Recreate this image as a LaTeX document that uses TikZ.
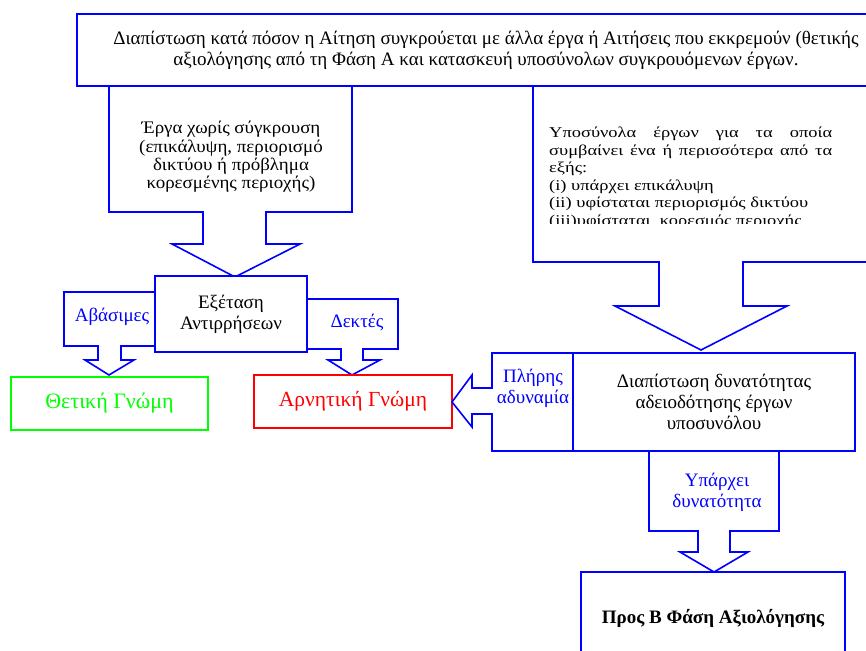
\documentclass[tikz,border=0pt]{standalone}
\usepackage{fontspec}
\setmainfont{Liberation Serif}
\newfontfamily\widerserif[FakeStretch=1.23]{Liberation Serif}
\newfontfamily\wideserif[FakeStretch=1.07]{Liberation Serif}
\usepackage{tikz}
\usetikzlibrary{positioning}
\tikzstyle{callout} = [draw=blue, line width=1.6pt, fill=white, line join=miter]
\tikzstyle{box} = [draw=blue, line width=1.6pt, fill=white, align=center, inner sep=0pt, font=\fontsize{19}{21}\selectfont]
\tikzstyle{txt} = [align=center, inner sep=0pt, font=\fontsize{19}{21}\selectfont]
\tikzstyle{lbl} = [txt, text=blue]

\begin{document}
\begin{tikzpicture}[x=1pt, y=-1pt]
  \useasboundingbox (0,0) rectangle (866,650);
  \clip (0,0) rectangle (866,650);
  % callouts under the top box
  \draw[callout] (533,60) -- (533,262) -- (659,262) -- (659,306) -- (615,306) -- (701,350)
    -- (787,306) -- (743,306) -- (743,262) -- (900,262) -- (900,60) -- cycle;
  \draw[callout] (109,60) -- (109,212) -- (203,212) -- (203,244) -- (172,244) -- (235,277)
    -- (300,244) -- (266,244) -- (266,212) -- (352,212) -- (352,60) -- cycle;
  \node[box, minimum width=818, minimum height=72, font=\fontsize{19}{21}\selectfont] (conflict) at (486,50)
    {Διαπίστωση κατά πόσον η Αίτηση συγκρούεται με άλλα έργα ή Αιτήσεις που εκκρεμούν (θετικής\\
     αξιολόγησης από τη Φάση Α και κατασκευή υποσύνολων συγκρουόμενων έργων.};
  \node[txt, font=\wideserif\fontsize{17.7}{18.4}\selectfont] (noconflict) at (231,157)
    {Έργα χωρίς σύγκρουση\\(επικάλυψη, περιορισμό\\δικτύου ή πρόβλημα\\κορεσμένης περιοχής)};
  \begin{scope}
    \clip (533,86) rectangle (866,223);
    \node[txt, anchor=north west, text width=283, align=justify,
      font=\widerserif\fontsize{15}{17.5}\selectfont] (subsets) at (549,127)
      {Υποσύνολα έργων για τα οποία\linebreak συμβαίνει ένα ή περισσότερα από τα\linebreak εξής:\newline
       (i) υπάρχει επικάλυψη\newline
       (ii) υφίσταται περιορισμός δικτύου\newline
       (iii)υφίσταται~ κορεσμός περιοχής};
  \end{scope}
  % objections
  \draw[callout] (200,292) -- (64,292) -- (64,346) -- (98,346) -- (98,360) -- (85,360) -- (109,375)
    -- (134,360) -- (121,360) -- (121,346) -- (200,346) -- cycle;
  \draw[callout] (260,299) -- (398,299) -- (398,349) -- (363,349) -- (363,360) -- (380,360) -- (352,375)
    -- (328,360) -- (341,360) -- (341,349) -- (260,349) -- cycle;
  \node[lbl] (unfounded) at (112,317) {Αβάσιμες};
  \node[lbl] (accepted) at (357,322) {Δεκτές};
  \node[box, minimum width=152, minimum height=76] (exam) at (231,314) {Εξέταση\\Αντιρρήσεων};
  \node[box, draw=green, text=green, minimum width=197, minimum height=53,
    font=\fontsize{22}{24}\selectfont] (positive) at (109.5,403.5) {Θετική Γνώμη};
  \node[box, draw=red, text=red, minimum width=198, minimum height=53,
    font=\fontsize{21.5}{24}\selectfont] (negative) at (353,401.5) {Αρνητική Γνώμη};
  % feasibility
  \draw[callout] (600,353) -- (492,353) -- (492,388) -- (472,388) -- (472,375) -- (452,402)
    -- (472,427) -- (472,414) -- (492,414) -- (492,451) -- (600,451) -- cycle;
  \draw[callout] (649,420) -- (649,531) -- (698,531) -- (698,552) -- (680,552) -- (714,572)
    -- (748,552) -- (730,552) -- (730,531) -- (779,531) -- (779,420) -- cycle;
  \node[lbl] (impossible) at (533,388) {Πλήρης\\αδυναμία};
  \node[lbl] (possible) at (717,492) {Υπάρχει\\δυνατότητα};
  \node[box, minimum width=282, minimum height=98] (feasibility) at (714,402)
    {Διαπίστωση δυνατότητας\\αδειοδότησης έργων\\υποσυνόλου};
  \node[box, minimum width=264, minimum height=92, font=\fontsize{19}{21}\selectfont\bfseries]
    (phaseB) at (713,618) {Προς Β Φάση Αξιολόγησης};
\end{tikzpicture}
\end{document}
